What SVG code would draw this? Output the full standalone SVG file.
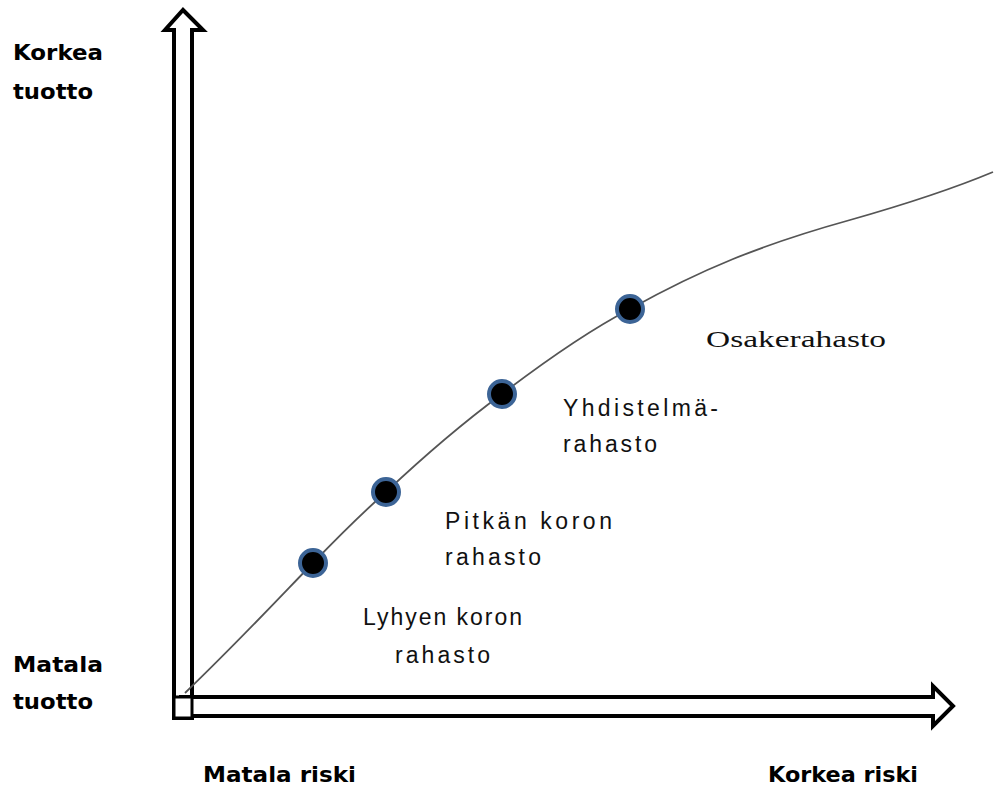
<svg xmlns="http://www.w3.org/2000/svg" width="994" height="787" viewBox="0 0 994 787">
<style>
.ax{fill:#fff;stroke:#000;stroke-width:4;stroke-linejoin:miter}
.lbl{font-family:"Liberation Sans",Arial,sans-serif;font-size:23px;fill:#111}
.b{font-family:"DejaVu Sans","Liberation Sans",sans-serif;font-weight:bold;font-size:21px;fill:#000}
.serif{font-family:"Liberation Serif","Times New Roman",serif;font-size:24px;fill:#111}
.dot{fill:#000;stroke:#3c6496;stroke-width:4}
</style>
<rect width="994" height="787" fill="#fff"/>
<g id="axes">
<path class="ax" d="M174 718 L174 30 L165 30 L183 10 L203 30 L192 30 L192 718 Z"/>
<path class="ax" d="M181 697 L933 697 L933 686 L953 706 L933 726 L933 716 L181 716 Z"/>
<rect x="174" y="697" width="18" height="21" fill="#fff" stroke="#000" stroke-width="3"/>
</g>
<g id="connectors">
<path d="M185 693 C240 640 280 597 313 563 C340 535 360 515 386 492 C420 460 460 425 502 394 C540 365 590 330 630 309 C700 270 760 245 850 220 C910 203 950 190 993 172" fill="none" stroke="#555" stroke-width="1.8"/>
</g>
<g id="dot1"><circle class="dot" cx="313" cy="563" r="13"/></g>
<g id="dot2"><circle class="dot" cx="386" cy="492" r="13"/></g>
<g id="dot3"><circle class="dot" cx="502" cy="394" r="13"/></g>
<g id="dot4"><circle class="dot" cx="630" cy="309" r="13"/></g>
<g id="labels">
<text class="b" x="13" y="60" textLength="90" lengthAdjust="spacingAndGlyphs">Korkea</text>
<text class="b" x="13" y="99" textLength="80" lengthAdjust="spacingAndGlyphs">tuotto</text>
<text class="b" x="13" y="672" textLength="90" lengthAdjust="spacingAndGlyphs">Matala</text>
<text class="b" x="13" y="709" textLength="80" lengthAdjust="spacingAndGlyphs">tuotto</text>
<text class="b" x="203" y="782" textLength="153" lengthAdjust="spacingAndGlyphs">Matala riski</text>
<text class="b" x="768" y="782" textLength="150" lengthAdjust="spacingAndGlyphs">Korkea riski</text>
<text class="serif" x="706" y="347" textLength="180" lengthAdjust="spacingAndGlyphs">Osakerahasto</text>
<text class="lbl" x="563" y="416" textLength="155" lengthAdjust="spacing">Yhdistelmä-</text>
<text class="lbl" x="563" y="452" textLength="94" lengthAdjust="spacing">rahasto</text>
<text class="lbl" x="445" y="529" textLength="167" lengthAdjust="spacing">Pitkän koron</text>
<text class="lbl" x="445" y="565" textLength="96" lengthAdjust="spacing">rahasto</text>
<text class="lbl" x="363" y="625" textLength="159" lengthAdjust="spacing">Lyhyen koron</text>
<text class="lbl" x="395" y="663" textLength="95" lengthAdjust="spacing">rahasto</text>
</g>
</svg>
